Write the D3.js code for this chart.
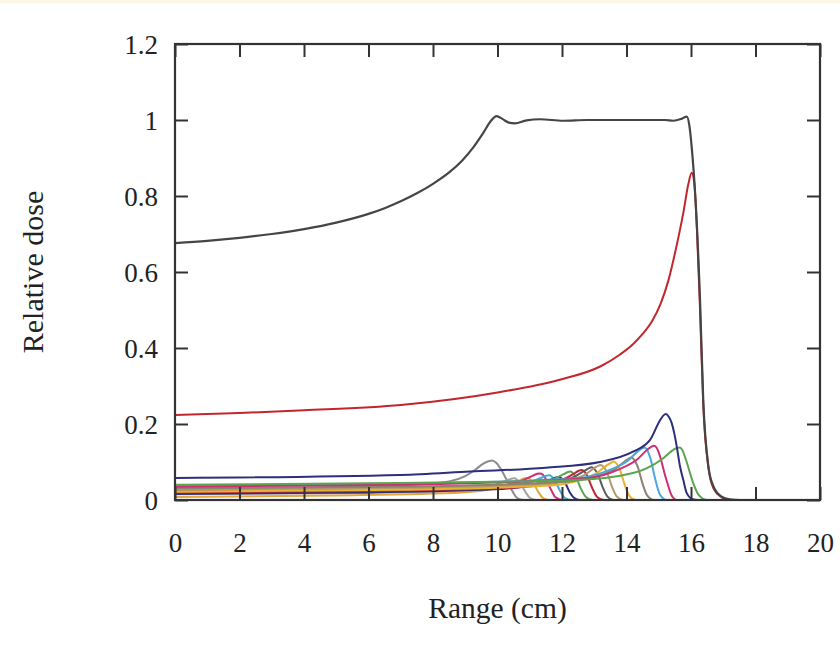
<!DOCTYPE html>
<html><head><meta charset="utf-8">
<script src="https://cdn.jsdelivr.net/npm/d3@7"></script>
<style>html,body{margin:0;padding:0;background:#fff;}svg{display:block;}</style>
</head><body>
<svg id="chart" width="840" height="655"></svg>
<script>
// ---- data (range cm, relative dose) ----
const xTicks = [0, 2, 4, 6, 8, 10, 12, 14, 16, 18, 20];
const yTicks = [0, 0.2, 0.4, 0.6, 0.8, 1, 1.2];
const yTickLabels = ["0", "0.2", "0.4", "0.6", "0.8", "1", "1.2"];

const sobp = [[0,0.676],[1,0.682],[2,0.69],[3,0.70],[4,0.713],[5,0.73],[6,0.753],[6.5,0.768],[7,0.786],[7.5,0.807],[8,0.832],[8.5,0.862],[8.9,0.893],[9.25,0.928],[9.55,0.965],[9.8,0.998],[9.97,1.01],[10.15,1.003],[10.35,0.993],[10.54,0.991],[10.9,0.999],[11.32,1.002],[12.04,0.998],[12.77,1.0],[13.8,1.0],[14.6,1.0],[15.2,1.0],[15.45,0.998],[15.7,1.003],[15.87,1.009],[15.95,0.985],[16.02,0.93],[16.14,0.79],[16.28,0.526],[16.38,0.263],[16.54,0.088],[16.7,0.035],[16.95,0.009],[17.2,0.002],[17.5,0],[20,0]];
const deepest = [[0,0.224],[2,0.229],[4,0.236],[7,0.25],[10,0.283],[11.9,0.316],[13.2,0.352],[13.8,0.383],[14.2,0.41],[14.5,0.437],[14.8,0.472],[15.05,0.515],[15.3,0.578],[15.53,0.66],[15.76,0.755],[15.92,0.832],[16.02,0.861],[16.1,0.835],[16.18,0.72],[16.28,0.5],[16.38,0.25],[16.54,0.085],[16.7,0.03],[16.95,0.007],[17.2,0],[20,0]];

const peak01 = [[0,0.030],[4.9,0.034],[7.5,0.041],[8.5,0.049],[9.0,0.063],[9.3,0.079],[9.55,0.095],[9.72,0.102],[9.84,0.104],[9.96,0.098],[10.18,0.07],[10.39,0.035],[10.6,0.006],[10.8,0],[20,0]];
const peak02 = [[0,0.015],[5,0.018],[8.5,0.024],[9.5,0.032],[10.0,0.042],[10.3,0.052],[10.43,0.056],[10.52,0.057],[10.6,0.054],[10.72,0.042],[10.86,0.022],[11.0,0.006],[11.2,0],[20,0]];
const peak03 = [[0,0.008],[5,0.012],[8.9,0.02],[9.9,0.03],[10.4,0.042],[10.7,0.052],[10.83,0.057],[10.92,0.058],[11.0,0.055],[11.12,0.043],[11.26,0.022],[11.4,0.006],[11.6,0],[20,0]];
const peak04 = [[0,0.018],[5.5,0.022],[9.3,0.03],[10.3,0.04],[10.8,0.052],[11.1,0.064],[11.23,0.069],[11.32,0.07],[11.4,0.067],[11.52,0.052],[11.66,0.027],[11.8,0.007],[12.0,0],[20,0]];
const peak05 = [[0,0.02],[5.8,0.024],[9.6,0.031],[10.6,0.04],[11.1,0.05],[11.4,0.06],[11.52,0.064],[11.6,0.065],[11.68,0.062],[11.8,0.048],[11.94,0.024],[12.08,0.006],[12.3,0],[20,0]];
const peak06 = [[0,0.016],[6,0.02],[9.9,0.028],[10.9,0.037],[11.4,0.046],[11.7,0.055],[11.82,0.059],[11.9,0.06],[11.98,0.057],[12.1,0.045],[12.23,0.022],[12.37,0.006],[12.55,0],[20,0]];
const peak07 = [[0,0.022],[6,0.026],[10.25,0.034],[11.25,0.044],[11.75,0.055],[12.05,0.068],[12.17,0.073],[12.25,0.075],[12.33,0.072],[12.45,0.057],[12.59,0.029],[12.74,0.008],[12.95,0],[20,0]];
const peak08 = [[0,0.02],[6,0.024],[10.6,0.033],[11.6,0.044],[12.1,0.057],[12.4,0.071],[12.52,0.077],[12.6,0.079],[12.68,0.076],[12.8,0.06],[12.94,0.031],[13.09,0.008],[13.3,0],[20,0]];
const peak09 = [[0,0.024],[6.5,0.028],[10.9,0.037],[11.9,0.048],[12.4,0.062],[12.72,0.078],[12.84,0.084],[12.92,0.086],[13.0,0.082],[13.12,0.066],[13.26,0.034],[13.41,0.009],[13.6,0],[20,0]];
const peak10 = [[0,0.027],[6.5,0.031],[11.2,0.04],[12.2,0.052],[12.7,0.066],[13.0,0.084],[13.12,0.09],[13.2,0.092],[13.28,0.088],[13.4,0.072],[13.54,0.037],[13.69,0.01],[13.9,0],[20,0]];
const peak11 = [[0,0.022],[7,0.027],[11.6,0.038],[12.6,0.054],[13.1,0.072],[13.4,0.092],[13.52,0.098],[13.6,0.101],[13.68,0.097],[13.8,0.079],[13.94,0.041],[14.09,0.011],[14.3,0],[20,0]];
const peak12 = [[0,0.031],[7,0.035],[12.1,0.048],[13.1,0.063],[13.65,0.082],[13.95,0.102],[14.07,0.109],[14.15,0.112],[14.23,0.107],[14.35,0.087],[14.49,0.045],[14.64,0.012],[14.85,0],[20,0]];
const peak13 = [[0,0.037],[7,0.042],[12.5,0.058],[13.5,0.08],[14.05,0.104],[14.35,0.128],[14.47,0.135],[14.55,0.138],[14.63,0.133],[14.75,0.107],[14.89,0.055],[15.04,0.014],[15.25,0],[20,0]];
const peak14 = [[0,0.035],[7,0.04],[12.8,0.058],[13.8,0.082],[14.35,0.108],[14.65,0.133],[14.77,0.14],[14.85,0.143],[14.93,0.138],[15.05,0.112],[15.18,0.07],[15.27,0.044],[15.4,0.012],[15.56,0],[20,0]];
const peak15 = [[0,0.058],[7,0.066],[9.15,0.075],[11.5,0.085],[13.18,0.1],[14.2,0.127],[14.73,0.158],[15.04,0.21],[15.14,0.222],[15.22,0.226],[15.31,0.219],[15.4,0.203],[15.48,0.176],[15.56,0.14],[15.66,0.088],[15.76,0.053],[15.87,0.018],[16.05,0.002],[16.2,0],[20,0]];
const peak16 = [[0,0.04],[6,0.044],[10,0.048],[12.56,0.053],[13.59,0.061],[14.62,0.083],[15.14,0.11],[15.45,0.132],[15.56,0.137],[15.64,0.138],[15.72,0.133],[15.85,0.104],[16.07,0.044],[16.25,0.012],[16.5,0],[20,0]];

const peakSeries = [peak01, peak02, peak03, peak04, peak05, peak06, peak07, peak08, peak09, peak10, peak11, peak12, peak13, peak14, peak16, peak15];
const peakColors = ["#8c8c8c","#a3a3a3","#e2a63c","#cf2e74","#4ba6de","#2c2f7c","#5ba550","#c2283c","#5c5c5c","#b39a6c","#e8b12e","#8d8270","#4ba6de","#cf2e74","#5ba550","#2c2f7c"];

// ---- drawing ----
const svg = d3.select("#chart");
const L = 175, R = 820, T = 44, B = 500;
const x = d3.scaleLinear().domain([0, 20]).range([L, R]);
const y = d3.scaleLinear().domain([0, 1.2]).range([B, T]);

svg.append("rect").attr("x",0).attr("y",0).attr("width",840).attr("height",3).attr("fill","#fbf7e4");

const clip = svg.append("defs").append("clipPath").attr("id","plotclip");
clip.append("rect").attr("x",L).attr("y",T-5).attr("width",R-L).attr("height",B-T+5);

const line = d3.line().x(d => x(d[0])).y(d => y(d[1])).curve(d3.curveMonotoneX);

const g = svg.append("g").attr("clip-path","url(#plotclip)");
peakSeries.forEach((s, i) => {
  g.append("path").datum(s).attr("d", line).attr("fill","none")
    .attr("stroke", peakColors[i]).attr("stroke-width", 2).attr("stroke-linejoin","round");
});
g.append("path").datum(deepest).attr("d", line).attr("fill","none").attr("stroke","#c1272d").attr("stroke-width",2);
g.append("path").datum(sobp).attr("d", line).attr("fill","none").attr("stroke","#454545").attr("stroke-width",2.2);

// axes with inward ticks on all sides
const tickLen = 13;
const font = "'Liberation Serif','Times New Roman',serif";
const axB = svg.append("g").attr("transform",`translate(0,${B})`)
  .call(d3.axisBottom(x).tickValues(xTicks).tickSize(-tickLen).tickFormat(d3.format("d")));
const axT = svg.append("g").attr("transform",`translate(0,${T})`)
  .call(d3.axisTop(x).tickValues(xTicks).tickSize(-tickLen).tickFormat(""));
const axL = svg.append("g").attr("transform",`translate(${L},0)`)
  .call(d3.axisLeft(y).tickValues(yTicks).tickSize(-tickLen).tickFormat((d,i) => yTickLabels[i]));
const axR = svg.append("g").attr("transform",`translate(${R},0)`)
  .call(d3.axisRight(y).tickValues(yTicks).tickSize(-tickLen).tickFormat(""));
[axB, axT, axL, axR].forEach(a => {
  a.select(".domain").remove();
  a.selectAll(".tick line").attr("stroke","#333").attr("stroke-width",2);
  a.selectAll(".tick text").attr("fill","#222").style("font-family", font).style("font-size","27px");
});
axB.selectAll(".tick text").attr("dy","0.71em").attr("y", 33);
axL.selectAll(".tick text").attr("dy","0.34em").attr("x", -17);
svg.append("rect").attr("x",L).attr("y",T).attr("width",R-L).attr("height",B-T)
  .attr("fill","none").attr("stroke","#333").attr("stroke-width",2.2);

svg.append("text").attr("x",(L+R)/2).attr("y",618).attr("text-anchor","middle")
  .style("font-family",font).style("font-size","29.5px").attr("fill","#222").text("Range (cm)");
svg.append("text").attr("transform",`translate(43,${(T+B)/2}) rotate(-90)`).attr("text-anchor","middle")
  .style("font-family",font).style("font-size","30px").attr("fill","#222").text("Relative dose");
</script>
</body></html>
